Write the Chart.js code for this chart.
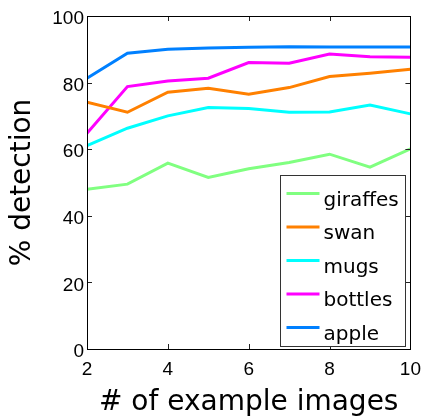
<!DOCTYPE html>
<html>
<head>
<meta charset="utf-8">
<title>% detection vs # of example images</title>
<script src="https://cdn.jsdelivr.net/npm/chart.js@4/dist/chart.umd.min.js"></script>
<style>
    body { margin: 0; background: #fff; }
    #wrap { width: 430px; height: 418px; }
</style>
</head>
<body>
<div id="wrap"><canvas id="chart"></canvas></div>
<script>
// Data
const exampleImages = [2, 3, 4, 5, 6, 7, 8, 9, 10];
const giraffes = [48, 49.5, 55.8, 51.5, 54.1, 56, 58.5, 54.6, 60.1];
const swan = [74.1, 71.1, 77.1, 78.3, 76.5, 78.5, 81.8, 82.8, 84];
const mugs = [61.1, 66.3, 70, 72.5, 72.2, 71.1, 71.2, 73.3, 70.6];
const bottles = [64.8, 78.8, 80.5, 81.3, 86, 85.8, 88.6, 87.8, 87.6];
const apple = [81.3, 88.8, 90, 90.4, 90.6, 90.8, 90.7, 90.7, 90.7];
const xTicks = [2, 4, 6, 8, 10];
const yTicks = [0, 20, 40, 60, 80, 100];

function toPoints(values) {
    return values.map((v, i) => ({ x: exampleImages[i], y: v }));
}

function series(label, values, color) {
    return {
        label: label,
        data: toPoints(values),
        borderColor: color,
        backgroundColor: color,
        borderWidth: 3,
        pointRadius: 0,
        tension: 0,
        fill: false
    };
}

// Rahmen och inre streck (MATLAB-stil)
const framePlugin = {
    id: "frame",
    afterDatasetsDraw(chart) {
        const { ctx, chartArea: a, scales: { x, y } } = chart;
        ctx.save();
        ctx.strokeStyle = "#222";
        ctx.lineWidth = 1;
        ctx.beginPath();
        xTicks.forEach(t => {
            const px = Math.round(x.getPixelForValue(t)) + 0.5;
            ctx.moveTo(px, a.bottom); ctx.lineTo(px, a.bottom - 5);
            ctx.moveTo(px, a.top); ctx.lineTo(px, a.top + 5);
        });
        yTicks.forEach(t => {
            const py = Math.round(y.getPixelForValue(t)) + 0.5;
            ctx.moveTo(a.left, py); ctx.lineTo(a.left + 5, py);
            ctx.moveTo(a.right, py); ctx.lineTo(a.right - 5, py);
        });
        ctx.stroke();
        ctx.strokeStyle = "#000";
        ctx.strokeRect(Math.round(a.left) + 0.5, Math.round(a.top) + 0.5,
            Math.round(a.right - a.left), Math.round(a.bottom - a.top));

        // Legend nere till höger
        const boxW = 125, boxH = 171, step = 33.5;
        const bx = Math.round(a.right - 5 - boxW) + 0.5;
        const by = Math.round(a.bottom - 3 - boxH) + 0.5;
        ctx.fillStyle = "#fff";
        ctx.fillRect(bx, by, boxW, boxH);
        ctx.strokeStyle = "#333";
        ctx.strokeRect(bx, by, boxW, boxH);
        ctx.font = "20px 'DejaVu Sans'";
        ctx.textBaseline = "alphabetic";
        ctx.textAlign = "left";
        chart.data.datasets.forEach((ds, i) => {
            const ly = by + 18 + i * step;
            ctx.strokeStyle = ds.borderColor;
            ctx.lineWidth = 3;
            ctx.beginPath();
            ctx.moveTo(bx + 6, ly);
            ctx.lineTo(bx + 39, ly);
            ctx.stroke();
            ctx.fillStyle = "#000";
            ctx.fillText(ds.label, bx + 43, ly + 12);
        });
        ctx.restore();
    }
};

new Chart(document.getElementById("chart"), {
    type: "line",
    data: {
        datasets: [
            series("giraffes", giraffes, "#80ff80"),
            series("swan", swan, "#ff8000"),
            series("mugs", mugs, "#00ffff"),
            series("bottles", bottles, "#ff00ff"),
            series("apple", apple, "#0080ff")
        ]
    },
    options: {
        responsive: true,
        maintainAspectRatio: false,
        animation: false,
        layout: { padding: { top: 16, right: 13, left: 0, bottom: 0 } },
        plugins: { legend: { display: false }, tooltip: { enabled: false } },
        scales: {
            x: {
                type: "linear",
                min: 2,
                max: 10,
                afterBuildTicks: s => { s.ticks = xTicks.map(v => ({ value: v })); },
                afterFit: s => { s.height = 69; },
                grid: { display: false, drawTicks: false },
                border: { display: false },
                ticks: { color: "#000", padding: 9, font: { family: "'Liberation Sans'", size: 19 } },
                title: {
                    display: true,
                    text: "# of example images",
                    color: "#000",
                    font: { family: "'DejaVu Sans'", size: 28, lineHeight: 1 },
                    padding: { top: 0, bottom: 1 }
                }
            },
            y: {
                min: 0,
                max: 100,
                afterBuildTicks: s => { s.ticks = yTicks.map(v => ({ value: v })); },
                afterFit: s => { s.width = 87; },
                grid: { display: false, drawTicks: false },
                border: { display: false },
                ticks: { color: "#000", padding: 3, labelOffset: 3, font: { family: "'Liberation Sans'", size: 19 } },
                title: {
                    display: true,
                    text: "% detection",
                    color: "#000",
                    font: { family: "'DejaVu Sans'", size: 28, lineHeight: 1 },
                    padding: { top: 9, bottom: 0 }
                }
            }
        }
    },
    plugins: [framePlugin]
});
</script>
</body>
</html>
